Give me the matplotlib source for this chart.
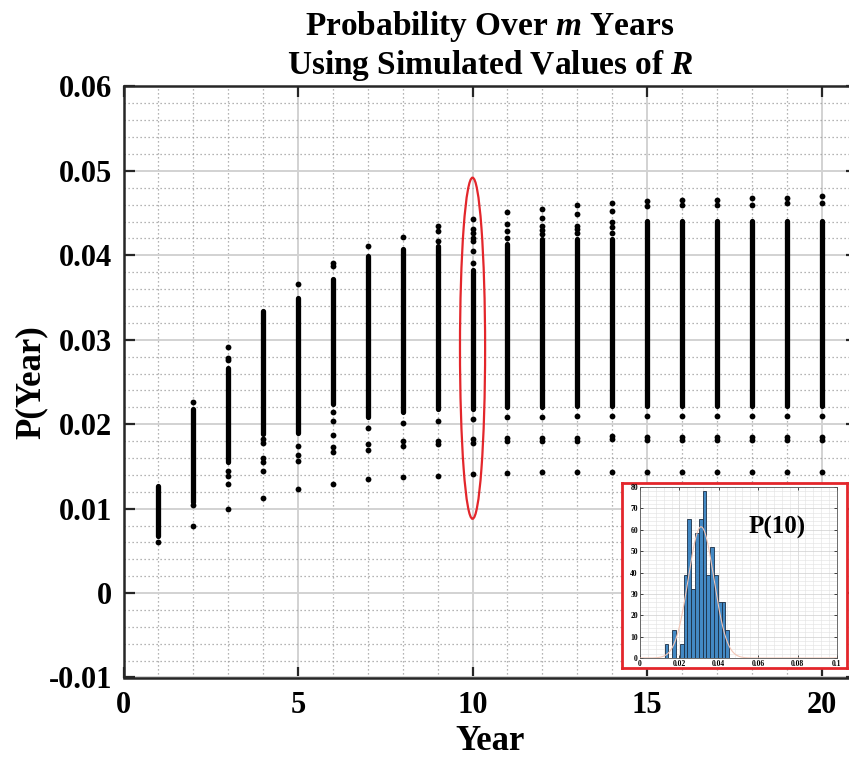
import matplotlib
matplotlib.use('Agg')
import matplotlib.pyplot as plt
from matplotlib.patches import Ellipse
from matplotlib import ticker as mticker
import numpy as np

plt.rcParams['font.family'] = ['Liberation Serif', 'DejaVu Serif']
plt.rcParams['font.weight'] = 'bold'
plt.rcParams['axes.titleweight'] = 'bold'
plt.rcParams['axes.labelweight'] = 'bold'
plt.rcParams['mathtext.fontset'] = 'custom'
plt.rcParams['mathtext.rm'] = 'Liberation Serif:bold'
plt.rcParams['mathtext.it'] = 'Liberation Serif:italic:bold'

# simulated P(year): dense band (lo..hi) plus the loose points of each column
years = list(range(1, 21))
dense_lo = [0.0068, 0.0108, 0.0155, 0.0188, 0.0190, 0.0224, 0.0208, 0.0214, 0.0218, 0.0218,
            0.0220, 0.0220, 0.0221, 0.0222, 0.0221, 0.0221, 0.0221, 0.0221, 0.0221, 0.0221]
dense_hi = [0.0127, 0.0218, 0.0267, 0.0334, 0.0350, 0.0372, 0.0399, 0.0407, 0.0411, 0.0383,
            0.0413, 0.0419, 0.0419, 0.0419, 0.0441, 0.0441, 0.0441, 0.0441, 0.0441, 0.0441]
loose_pts = [
    [0.0060],
    [0.0226, 0.0104, 0.0080],
    [0.0291, 0.0279, 0.0276, 0.0145, 0.0139, 0.0129, 0.0099],
    [0.0182, 0.0178, 0.0160, 0.0155, 0.0145, 0.0113],
    [0.0366, 0.0174, 0.0164, 0.0156, 0.0123],
    [0.0391, 0.0387, 0.0214, 0.0204, 0.0187, 0.0173, 0.0167, 0.0129],
    [0.0411, 0.0196, 0.0176, 0.0170, 0.0135],
    [0.0422, 0.0202, 0.0180, 0.0174, 0.0137],
    [0.0435, 0.0429, 0.0417, 0.0204, 0.0180, 0.0176, 0.0139],
    [0.0443, 0.0431, 0.0427, 0.0421, 0.0417, 0.0405, 0.0391, 0.0206, 0.0182, 0.0178, 0.0141],
    [0.0451, 0.0437, 0.0429, 0.0421, 0.0208, 0.0184, 0.0180, 0.0142],
    [0.0455, 0.0444, 0.0435, 0.0430, 0.0425, 0.0209, 0.0184, 0.0180, 0.0143],
    [0.0460, 0.0449, 0.0435, 0.0431, 0.0427, 0.0210, 0.0184, 0.0180, 0.0143],
    [0.0462, 0.0453, 0.0439, 0.0433, 0.0427, 0.0210, 0.0186, 0.0182, 0.0143],
    [0.0464, 0.0458, 0.0210, 0.0185, 0.0181, 0.0143],
    [0.0466, 0.0460, 0.0210, 0.0185, 0.0181, 0.0143],
    [0.0466, 0.0460, 0.0210, 0.0185, 0.0181, 0.0143],
    [0.0468, 0.0460, 0.0210, 0.0185, 0.0181, 0.0143],
    [0.0468, 0.0462, 0.0210, 0.0185, 0.0181, 0.0143],
    [0.0470, 0.0462, 0.0210, 0.0185, 0.0181, 0.0143],
]

# inset histogram of P(10) (pdf-normalised) and its normal fit
hist_edges = [0.0125, 0.0144, 0.0164, 0.0183, 0.0202, 0.0222, 0.0241, 0.0260, 0.0279,
              0.0299, 0.0318, 0.0337, 0.0357, 0.0376, 0.0395, 0.0414, 0.0434, 0.0453]
hist_dens = [6.5, 0, 13, 0, 6.5, 39, 65, 32.5, 58.5, 65, 78, 39, 52, 39, 26, 26, 13]
fit_mu = 0.031
fit_sigma = 0.0065

W, H = 849, 761
fig = plt.figure(figsize=(W / 100, H / 100), dpi=100)
ax = fig.add_axes([123.5 / W, 1 - 677.5 / H, 733 / W, 591 / H])

ax.set_axisbelow(True)
ax.grid(which='major', color='#d2d2d2', lw=1.4, ls='-')
ax.grid(which='minor', color='#9c9c9c', lw=0.9, ls=(0, (1, 2.2)))

seg = ax.vlines(years, dense_lo, dense_hi, colors='k', lw=3.8, zorder=3)
seg.set_capstyle('round')
px = [y for y, pts in zip(years, loose_pts) for _ in pts]
py = [p for pts in loose_pts for p in pts]
ax.plot(px, py, 'o', color='k', ms=4.2, mew=0, zorder=3)

ax.add_patch(Ellipse((10, 0.0290), 0.72, 0.0404, fill=False, edgecolor='#e3262b', lw=1.6, zorder=4))

ax.set_xlim(0, 21)
ax.set_ylim(-0.01, 0.06)
ax.set_xticks([0, 5, 10, 15, 20])
ax.set_yticks([-0.01, 0, 0.01, 0.02, 0.03, 0.04, 0.05, 0.06])
ax.yaxis.set_major_formatter(mticker.FuncFormatter(lambda v, p: '%g' % round(v, 3)))
ax.xaxis.set_minor_locator(mticker.MultipleLocator(1))
ax.yaxis.set_minor_locator(mticker.MultipleLocator(0.002))
ax.tick_params(which='major', direction='in', length=8, width=1.6, top=True, right=True,
               labelsize=22, colors='#262626', labelcolor='k')
ax.tick_params(axis='x', which='major', pad=10)
ax.tick_params(axis='y', which='major', pad=8)
ax.tick_params(which='minor', length=0)
for s in ax.spines.values():
    s.set_linewidth(1.8)
    s.set_color('#262626')

ax.set_xlabel('Year', fontsize=25, labelpad=3)
ax.set_ylabel('P(Year)', fontsize=25, labelpad=1)
ax.set_title('Probability Over $m$ Years\nUsing Simulated Values of $R$', fontsize=24, pad=9,
             linespacing=1.15)

# inset
box = fig.add_axes([622 / W, 1 - 668 / H, 225 / W, 185 / H])
box.set_xticks([])
box.set_yticks([])
box.set_facecolor('white')
for s in box.spines.values():
    s.set_color('#e3262b')
    s.set_linewidth(2)
box.set_zorder(5)

hax = fig.add_axes([640 / W, 1 - 658 / H, 197 / W, 171 / H])
hax.set_zorder(6)
hax.set_axisbelow(True)
hax.bar(hist_edges[:-1], hist_dens, width=np.diff(hist_edges), align='edge',
        color='#4389c4', edgecolor='#1c2f45', lw=0.6, zorder=2)
xs = np.linspace(0, 0.1, 400)
hax.plot(xs, np.exp(-0.5 * ((xs - fit_mu) / fit_sigma) ** 2) / (fit_sigma * np.sqrt(2 * np.pi)),
         color='#f2c6b6', lw=0.8, zorder=3)
hax.set_xlim(0, 0.1)
hax.set_ylim(0, 80)
hax.set_xticks([0, 0.02, 0.04, 0.06, 0.08, 0.1])
hax.set_xticklabels(['0', '0.02', '0.04', '0.06', '0.08', '0.1'])
hax.set_yticks(range(0, 81, 10))
hax.xaxis.set_minor_locator(mticker.MultipleLocator(0.004))
hax.yaxis.set_minor_locator(mticker.MultipleLocator(2))
hax.grid(which='major', color='#cfcfcf', lw=0.5)
hax.grid(which='minor', color='#e2e2e2', lw=0.4)
hax.tick_params(which='major', direction='in', length=2, width=0.5, top=True, right=True,
                labelsize=5.5, pad=1.5)
hax.tick_params(which='minor', length=0)
for s in hax.spines.values():
    s.set_linewidth(0.6)
    s.set_color('#555555')
hax.text(0.0695, 61, 'P(10)', fontsize=18, ha='center', va='center')

fig.savefig('out.png', dpi=100)
